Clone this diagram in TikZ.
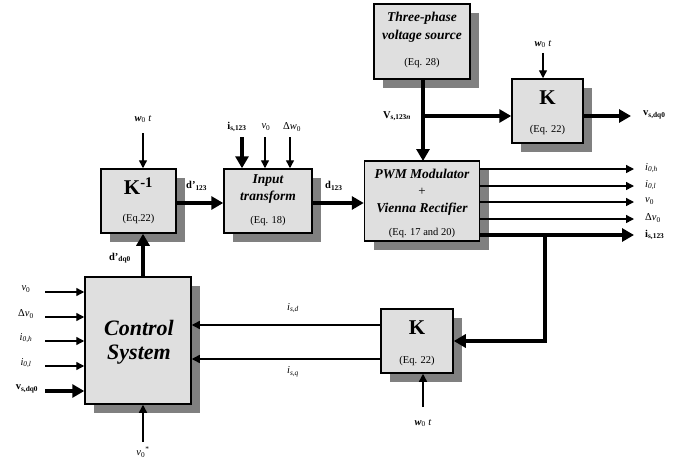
\documentclass[tikz,border=0pt]{standalone}
\usepackage{fontspec}
\setmainfont{Liberation Serif}
\usetikzlibrary{arrows.meta,shadows}
\begin{document}
\begin{tikzpicture}[x=1pt,y=-1pt,
  blk/.style={draw,line width=1.5pt,fill=gray!25,inner sep=0pt,
    drop shadow={shadow xshift=9pt,shadow yshift=-9pt,fill=black!50,opacity=1}},
  thinarr/.style={line width=1.4pt,-{Triangle[length=8pt,width=8pt]}},
  thickarr/.style={line width=3.6pt,-{Triangle[length=12pt,width=13pt]}},
  thickln/.style={line width=3.6pt},
  lbl/.style={inner sep=0pt,font=\fontsize{10.5}{11}\selectfont},
  ttl/.style={inner sep=0pt,font=\fontsize{13.5}{14}\selectfont\bfseries\itshape},
  eq/.style={inner sep=0pt,font=\fontsize{10.5}{11}\selectfont},
  bigk/.style={inner sep=0pt,font=\fontsize{21}{22}\selectfont\bfseries}]
\useasboundingbox (0,0) rectangle (695,460);
% boxes
\node[blk,minimum width=96pt,minimum height=75pt] (src) at (422,41.5) {};
\node[blk,minimum width=71pt,minimum height=64pt] (Ktop) at (547.5,111) {};
\node[blk,minimum width=115pt,minimum height=80pt] (pwm) at (422,201) {};
\node[blk,minimum width=75pt,minimum height=64pt] (Kinv) at (138.5,201) {};
\node[blk,minimum width=88pt,minimum height=64pt] (inp) at (268,201) {};
\node[blk,minimum width=106pt,minimum height=127pt] (ctrl) at (138,340.5) {};
\node[blk,minimum width=72pt,minimum height=64pt] (Kbot) at (417,341) {};
% box texts
\node[ttl] (srcA) at (422,18) {Three-phase};
\node[ttl] (srcB) at (422,36) {voltage source};
\node[eq] (srcC) at (422,63) {(Eq. 28)};
\node[bigk] (KtopA) at (547.5,98) {K};
\node[eq] (KtopB) at (547.5,130) {(Eq. 22)};
\node[ttl] (pwmA) at (422,174) {PWM Modulator};
\node[ttl,font=\fontsize{13}{14}\selectfont] (pwmB) at (422,192) {+};
\node[ttl] (pwmC) at (422,209) {Vienna Rectifier};
\node[eq] (pwmD) at (422,233) {(Eq. 17 and 20)};
\node[bigk] (KinvA) at (138.5,186) {K\textsuperscript{-1}};
\node[eq] (KinvB) at (138.5,219) {(Eq.22)};
\node[ttl] (inpA) at (268,181) {Input};
\node[ttl] (inpB) at (268,197) {transform};
\node[eq] (inpC) at (268,221) {(Eq. 18)};
\node[inner sep=0pt,font=\fontsize{22}{24}\selectfont\bfseries\itshape] (ctrlA) at (139,328) {Control};
\node[inner sep=0pt,font=\fontsize{22}{24}\selectfont\bfseries\itshape] (ctrlB) at (139,355) {System};
\node[bigk] (KbotA) at (417,328) {K};
\node[eq] (KbotB) at (417,361) {(Eq. 22)};
% K^-1 inputs
\coordinate (wt1s) at (143,133);
\node[lbl] (wt1) at (143,119) {\textbf{\textit{w}}\textsubscript{0}\ \textit{t}};
\draw[thinarr] (wt1s) -- (wt1s |- Kinv.north);
% Input transform inputs
\coordinate (iss) at (242,137);
\coordinate (v0s) at (265,137);
\coordinate (dvs) at (290,137);
\node[lbl] (isl) at (237,127) {\textbf{i}\textsubscript{\textbf{s,123}}};
\node[lbl] (v0l) at (266,127) {\textit{v}\textsubscript{0}};
\node[lbl] (dvl) at (292,127) {Δ\textit{w}\textsubscript{0}};
\draw[thickarr] (iss) -- (iss |- inp.north);
\draw[thinarr] (v0s) -- (v0s |- inp.north);
\draw[thinarr] (dvs) -- (dvs |- inp.north);
% d'123 and d123
\coordinate (dy) at (0,203);
\draw[thickarr] (Kinv.east |- dy) -- (inp.west |- dy);
\node[lbl,anchor=west] (dpl) at (186,186) {\textbf{d’}\textsubscript{\textbf{123}}};
\draw[thickarr] (inp.east |- dy) -- (pwm.west |- dy);
\node[lbl,anchor=west] (dl) at (325,186) {\textbf{d}\textsubscript{\textbf{123}}};
% source to PWM and K
\draw[thickarr] (423,79) -- (423,161);
\coordinate (br1) at (423,116);
\draw[thickarr] (br1) -- (Ktop.west |- br1);
\node[lbl] (vsl) at (397,116) {\textbf{V}\textsubscript{\textbf{s,123\textit{n}}}};
\coordinate (wt2s) at (543,53);
\node[lbl] (wt2) at (543,44) {\textbf{\textit{w}}\textsubscript{0}\ \textit{t}};
\draw[thinarr] (wt2s) -- (wt2s |- Ktop.north);
\coordinate (vse) at (631,116);
\draw[thickarr] (Ktop.east |- br1) -- (vse);
\node[lbl,anchor=west] (vsdl) at (643,115) {\textbf{v}\textsubscript{\textbf{s,dq0}}};
% PWM outputs
\foreach \yy/\nm/\tx in {169/o1/{\textit{i}\textsubscript{\textit{0,h}}},186/o2/{\textit{i}\textsubscript{\textit{0,l}}},202/o3/{\textit{v}\textsubscript{0}},219/o4/{Δ\textit{v}\textsubscript{0}}}{
  \coordinate (\nm e) at (634,\yy);
  \draw[thinarr] (pwm.east |- \nm e) -- (\nm e);
  \node[lbl,anchor=west] (\nm) at (645,\yy-1) {\tx};
}
\coordinate (o5e) at (634,235);
\draw[thickarr] (pwm.east |- o5e) -- (o5e);
\node[lbl,anchor=west] (o5) at (645,235) {\textbf{i}\textsubscript{\textbf{s,123}}};
% feedback to bottom K
\coordinate (fb1) at (545,235);
\coordinate (fb2) at (545,341);
\draw[thickln,line join=miter] (fb1) -- (fb2) -- ([xshift=11pt]Kbot.east |- fb2);
\draw[thickarr] ([xshift=12pt]Kbot.east |- fb2) -- (Kbot.east |- fb2);
% bottom K to control
\coordinate (isd) at (0,325);
\coordinate (isq) at (0,359);
\draw[thinarr] (Kbot.west |- isd) -- (ctrl.east |- isd);
\draw[thinarr] (Kbot.west |- isq) -- (ctrl.east |- isq);
\node[lbl] (isdl) at (293,308) {\textit{i}\textsubscript{\textit{s,d}}};
\node[lbl] (isql) at (293,372) {\textit{i}\textsubscript{\textit{s,q}}};
\coordinate (wt3s) at (423,407);
\node[lbl] (wt3) at (423,423) {\textbf{\textit{w}}\textsubscript{0}\ \textit{t}};
\draw[thinarr] (wt3s) -- (wt3s |- Kbot.south);
% control inputs
\foreach \yy/\nm/\tx in {292/c1/{\textit{v}\textsubscript{0}},317/c2/{Δ\textit{v}\textsubscript{0}},341/c3/{\textit{i}\textsubscript{\textit{0,h}}},366/c4/{\textit{i}\textsubscript{\textit{0,l}}}}{
  \coordinate (\nm s) at (45,\yy);
  \draw[thinarr] (\nm s) -- (ctrl.west |- \nm s);
  \node[lbl] (\nm) at (26,\yy-3) {\tx};
}
\coordinate (c5s) at (45,391);
\draw[thickarr] (c5s) -- (ctrl.west |- c5s);
\node[lbl] (c5) at (27,389) {\textbf{v}\textsubscript{\textbf{s,dq0}}};
\coordinate (v0st) at (143,442);
\draw[thinarr] (v0st) -- (v0st |- ctrl.south);
\node[lbl] (v0stl) at (143,452) {\textit{v}\textsubscript{0}\textsuperscript{*}};
% d'dq0
\draw[thickarr] (ctrl.north -| 143,0) -- (Kinv.south -| 143,0);
\node[lbl] (ddql) at (120,258) {\textbf{d’}\textsubscript{\textbf{dq0}}};
\end{tikzpicture}
\end{document}
